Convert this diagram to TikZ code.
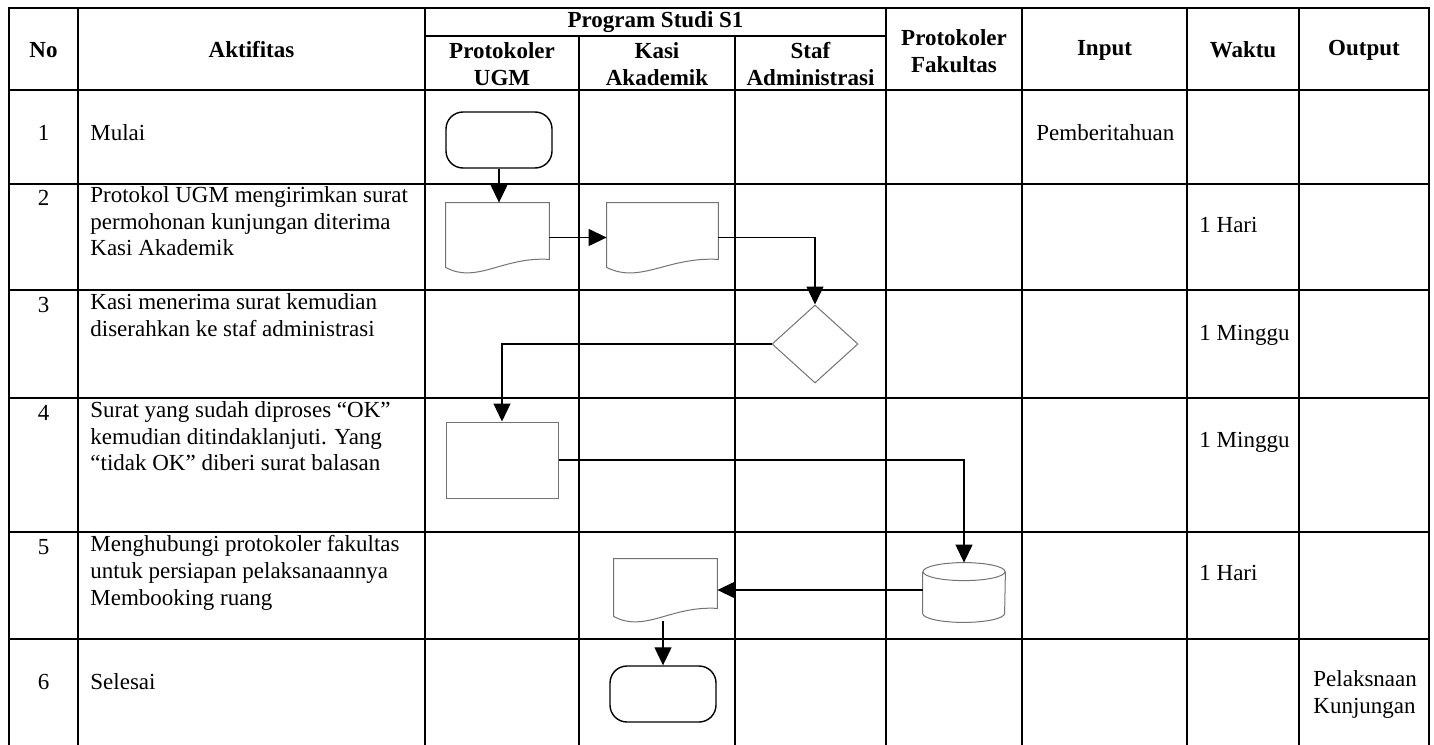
\documentclass[tikz,border=0pt]{standalone}
\usepackage{fontspec}
\setmainfont{Liberation Serif}
\usetikzlibrary{arrows.meta,shapes.geometric,calc}

\newcommand\cellfont{\fontsize{11.5}{13.35}\selectfont}
\newcommand\docshape[1]{%
	\draw [docline] (#1.north west) -- (#1.north east) -- ($(#1.south east)+(0,13)$)
		.. controls ($(#1.south west)!0.55!(#1.south east)+(0,16)$)
		and ($(#1.south west)!0.3!(#1.south east)+(0,-12)$)
		.. ($(#1.south west)+(0,5)$) -- cycle;}
\newcommand\storeshape[1]{%
	\draw [docline] ($(#1.north)+(0,-9)$) ellipse [x radius=41, y radius=9];
	\draw [docline] ($(#1.north west)+(0,-9)$) -- ($(#1.south west)+(0,9)$)
		arc [start angle=180, end angle=360, x radius=41, y radius=9]
		-- ($(#1.north east)+(0,-9)$);}

\begin{document}
\begin{tikzpicture}
			[
				x                   = 0.5pt,
				y                   = 0.5pt,
				font                = \cellfont,
				grid/.style         = {line width=1pt, line cap=rect},
				head/.style         = {font=\cellfont\bfseries, align=center},
				cell/.style         = {anchor=north west, inner sep=0pt, align=left,
				                       execute at begin node=\strut},
				num/.style          = {anchor=north, inner sep=0pt, execute at begin node=\strut},
				docline/.style      = {draw=black!55, line width=.5pt},
				flow/.style         = {draw, line width=.6pt, -{Triangle[length=9pt,width=8.5pt]}}
			]
			\tikzstyle{terminal}=[draw, rectangle, rounded corners=8.5pt,
				minimum width=53pt, minimum height=28pt, line width=.7pt]
			\tikzstyle{doc}=[rectangle, inner sep=0pt, minimum width=51.5pt, minimum height=34.5pt]
			\tikzstyle{process}=[docline, rectangle, minimum width=56pt, minimum height=38pt]
			\tikzstyle{decision}=[docline, diamond, inner sep=0pt, minimum width=43pt, minimum height=39pt]
			\tikzstyle{store}=[rectangle, inner sep=0pt, minimum width=41pt, minimum height=29.5pt]
			\useasboundingbox (0,0) rectangle (1434,-744);

			% table
			\foreach \x in {9,78,425,886,1022,1187,1299,1429}
				\draw [grid] (\x,-8) -- (\x,-744);
			\foreach \x in {579,735}
				\draw [grid] (\x,-36) -- (\x,-744);
			\foreach \y in {8,90,184,290,398,532,639}
				\draw [grid] (9,-\y) -- (1429,-\y);
			\draw [grid] (425,-36) -- (886,-36);

			\node [head] (hno)    at (43.5,-50)  {No};
			\node [head] (hakt)   at (251.5,-50) {Aktifitas};
			\node [head] (hprodi) at (655.5,-22) {Program Studi S1};
			\node [head] (hugm)   at (502,-64)   {Protokoler\\UGM};
			\node [head] (hkasi)  at (657,-64)   {Kasi\\Akademik};
			\node [head] (hstaf)  at (810.5,-64) {Staf\\Administrasi};
			\node [head] (hfak)   at (954,-51)   {Protokoler\\Fakultas};
			\node [head] (hin)    at (1104.5,-50) {Input};
			\node [head] (hwaktu) at (1243,-50)  {Waktu};
			\node [head] (hout)   at (1364,-50)  {Output};

			\node [num] (n1) at (43.5,-121) {1};
			\node [num] (n2) at (43.5,-186) {2};
			\node [num] (n3) at (43.5,-293) {3};
			\node [num] (n4) at (43.5,-401) {4};
			\node [num] (n5) at (43.5,-535) {5};
			\node [num] (n6) at (43.5,-670) {6};

			\node [cell] (a1) at (90,-121) {Mulai};
			\node [cell] (a2) at (90,-186) {Protokol UGM mengirimkan surat\\permohonan kunjungan diterima\\Kasi Akademik};
			\node [cell] (a3) at (90,-293) {Kasi menerima surat kemudian\\diserahkan ke staf administrasi};
			\node [cell] (a4) at (90,-401) {Surat yang sudah diproses “OK”\\kemudian ditindaklanjuti. Yang\\“tidak OK” diberi surat balasan};
			\node [cell] (a5) at (90,-535) {Menghubungi protokoler fakultas\\untuk persiapan pelaksanaannya\\Membooking ruang};
			\node [cell] (a6) at (90,-670) {Selesai};

			\node [cell] (in1) at (1036,-121) {Pemberitahuan};
			\node [cell] (w2)  at (1199,-213) {1 Hari};
			\node [cell] (w3)  at (1199,-321) {1 Minggu};
			\node [cell] (w4)  at (1199,-428) {1 Minggu};
			\node [cell] (w5)  at (1199,-561) {1 Hari};
			\node [cell] (out6) at (1313,-670) {Pelaksnaan\\Kunjungan};

			% flow
			\node [terminal] (mulai)   at (499,-140)     {};
			\node [doc] (surat)        at (497.5,-237.5) {};
			\node [doc, minimum width=55.5pt] (terima) at (662.5,-237.5) {};
			\node [decision] (cek)     at (815,-344)     {};
			\node [process] (proses)   at (502,-460)     {};
			\node [store] (ruang)      at (964,-592.5)   {};
			\node [doc, minimum height=31pt] (balasan) at (665.5,-590) {};
			\node [terminal] (selesai) at (663,-694)     {};
			\docshape{surat}
			\docshape{terima}
			\docshape{balasan}
			\storeshape{ruang}

			\draw [flow] (mulai.south) -- (mulai.south |- surat.north);
			\draw [flow] (surat.east) -- (terima.west);
			\draw [flow] (terima.east) -| (cek.north);
			\draw [flow] (cek.west) -| (proses.north);
			\draw [flow] (proses.east) -| (ruang.north);
			\draw [flow] (ruang.west |- balasan.east) -- (balasan.east);
			\draw [flow] (balasan.south -| selesai.north) -- (selesai.north);
		\end{tikzpicture}
\end{document}
